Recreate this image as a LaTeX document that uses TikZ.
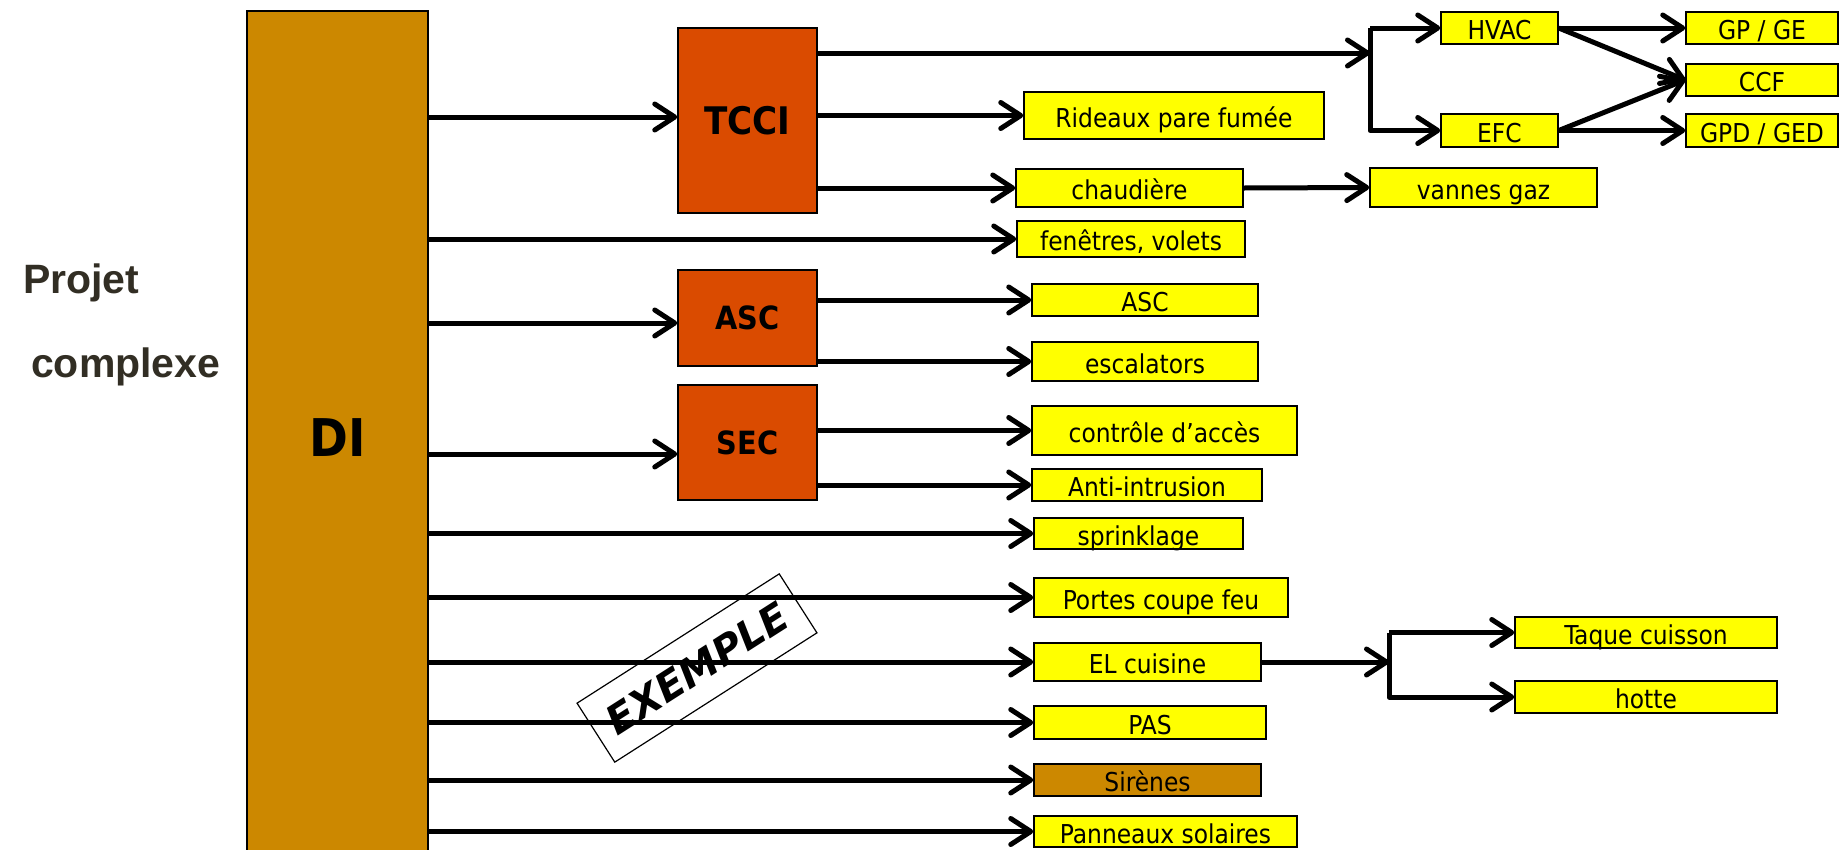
\documentclass[tikz,border=0pt]{standalone}
\usepackage{fontspec}
\setmainfont{DejaVu Sans Condensed}
\newfontfamily\projetfont{Liberation Sans}
\newfontfamily\tagfont{DejaVu Sans}
\usetikzlibrary{arrows.meta}
\definecolor{jaune}{RGB}{255,255,0}
\definecolor{ocre}{RGB}{204,136,0}
\definecolor{rouille}{RGB}{218,75,0}
\definecolor{encre}{RGB}{50,46,36}

\begin{document}
\begin{tikzpicture}[x=1pt, y=-1pt,
    cadre/.style={draw, inner sep=0pt, line width=1.5pt},
    jaune/.style={cadre, fill=jaune, text height=26pt, text depth=3pt, font=\fontsize{26}{30}\selectfont},
    lot/.style={cadre, fill=rouille, minimum width=139pt, font=\bfseries\fontsize{32}{36}\selectfont},
    fleche/.style={line width=5pt, -{Straight Barb[round,length=20pt,width=26pt]}},
    trait/.style={line width=5pt}]
  \useasboundingbox[fill=white] (0,0) rectangle (1847,849);

  % bloc principal
  \node[cadre, line width=2pt, fill=ocre, minimum width=181pt, minimum height=859pt] (DI) at (337.5,440.5) {};
  \node[font=\bfseries\fontsize{52}{56}\selectfont] (DItxt) at (337.5,438) {DI};
  \node[anchor=base west, text=encre, inner sep=0pt, font=\projetfont\bfseries\fontsize{41}{45}\selectfont] (projet) at (23,293) {Projet};
  \node[anchor=base west, text=encre, inner sep=0pt, font=\projetfont\bfseries\fontsize{41}{45}\selectfont] (complexe) at (31,377) {complexe};

  % lots
  \node[lot, minimum height=185pt, font=\bfseries\fontsize{38}{42}\selectfont] (tcci) at (747.5,120.5) {TCCI};
  \node[lot, minimum height=96pt] (asc) at (747.5,318) {ASC};
  \node[lot, minimum height=115pt] (sec) at (747.5,442.5) {SEC};

  % equipements
  \node[jaune, minimum width=300pt, minimum height=47pt] (rideaux) at (1174,115.5) {Rideaux pare fumée};
  \node[jaune, minimum width=227pt, minimum height=38pt] (chaud) at (1129.5,188) {chaudière};
  \node[jaune, minimum width=228pt, minimum height=36pt] (fenetres) at (1131,239) {fenêtres, volets};
  \node[jaune, minimum width=226pt, minimum height=32pt] (ascy) at (1145,300) {ASC};
  \node[jaune, minimum width=226pt, minimum height=39pt] (escal) at (1145,361.5) {escalators};
  \node[jaune, minimum width=265pt, minimum height=49pt] (controle) at (1164.5,430.5) {contrôle d’accès};
  \node[jaune, minimum width=230pt, minimum height=32pt] (anti) at (1147,485) {Anti-intrusion};
  \node[jaune, minimum width=209pt, minimum height=31pt] (sprink) at (1138.5,533.5) {sprinklage};
  \node[jaune, minimum width=254pt, minimum height=39pt] (portes) at (1161,597.5) {Portes coupe feu};
  \node[jaune, minimum width=227pt, minimum height=38pt] (elc) at (1147.5,662) {EL cuisine};
  \node[jaune, minimum width=232pt, minimum height=33pt] (pas) at (1150,722.5) {PAS};
  \node[jaune, fill=ocre, minimum width=227pt, minimum height=32pt] (sirenes) at (1147.5,780) {Sirènes};
  \node[jaune, minimum width=263pt, minimum height=31pt] (panneaux) at (1165.5,831.5) {Panneaux solaires};
  \node[jaune, minimum width=227pt, minimum height=39pt] (vannes) at (1483.5,187.5) {vannes gaz};
  \node[jaune, minimum width=117pt, minimum height=32pt] (hvac) at (1499.5,28) {HVAC};
  \node[jaune, minimum width=117pt, minimum height=33pt] (efc) at (1499.5,130.5) {EFC};
  \node[jaune, minimum width=152pt, minimum height=32pt] (gpge) at (1762,28) {GP / GE};
  \node[jaune, minimum width=152pt, minimum height=32pt] (ccf) at (1762,80) {CCF};
  \node[jaune, minimum width=152pt, minimum height=33pt] (gpd) at (1762,130.5) {GPD / GED};
  \node[jaune, minimum width=262pt, minimum height=31pt] (taque) at (1646,632.5) {Taque cuisson};
  \node[jaune, minimum width=262pt, minimum height=32pt] (hotte) at (1646,697) {hotte};

  % tampon
  \node[draw, line width=1.2pt, rotate=32.6, minimum width=240pt, minimum height=70pt,
        font=\tagfont\bfseries\itshape\fontsize{40}{44}\selectfont] (exemple) at (697,668) {EXEMPLE};

  % points de branchement
  \coordinate (eTCCI) at ([yshift=3.5pt]tcci.west);
  \coordinate (eASC) at ([yshift=-5pt]asc.west);
  \coordinate (eSEC) at ([yshift=-11.5pt]sec.west);
  \coordinate (br1) at (1370,53);
  \coordinate (br2) at (1389,662);

  % depuis DI
  \draw[fleche] (DI.east |- eTCCI) -- (eTCCI);
  \draw[fleche] (DI.east |- fenetres.west) -- (fenetres.west);
  \draw[fleche] (DI.east |- eASC) -- (eASC);
  \draw[fleche] (DI.east |- eSEC) -- (eSEC);
  \draw[fleche] (DI.east |- sprink.west) -- (sprink.west);
  \draw[fleche] (DI.east |- portes.west) -- (portes.west);
  \draw[fleche] (DI.east |- elc.west) -- (elc.west);
  \draw[fleche] (DI.east |- pas.west) -- (pas.west);
  \draw[fleche] (DI.east |- sirenes.west) -- (sirenes.west);
  \draw[fleche] (DI.east |- panneaux.west) -- (panneaux.west);

  % depuis les lots
  \draw[fleche] (tcci.east |- br1) -- (br1);
  \draw[fleche] (tcci.east |- rideaux.west) -- (rideaux.west);
  \draw[fleche] (tcci.east |- chaud.west) -- (chaud.west);
  \draw[fleche] (asc.east |- ascy.west) -- (ascy.west);
  \draw[fleche] (asc.east |- escal.west) -- (escal.west);
  \draw[fleche] (sec.east |- controle.west) -- (controle.west);
  \draw[fleche] (sec.east |- anti.west) -- (anti.west);

  % branches
  \draw[fleche] (chaud.east) -- (vannes.west);
  \draw[fleche] (br1 |- hvac.west) -- (hvac.west);
  \draw[fleche, line join=round] (br1 |- hvac.west) -- (br1 |- efc.west) -- (efc.west);
  \draw[fleche] (hvac.east) -- (gpge.west);
  \draw[fleche] (hvac.east) -- (ccf.west);
  \draw[fleche] (efc.east) -- (ccf.west);
  \draw[fleche] (efc.east) -- (gpd.west);
  \draw[fleche] (elc.east) -- (br2);
  \draw[fleche] (br2 |- taque.west) -- (taque.west);
  \draw[fleche, line join=round] (br2 |- taque.west) -- (br2 |- hotte.west) -- (hotte.west);
\end{tikzpicture}
\end{document}
